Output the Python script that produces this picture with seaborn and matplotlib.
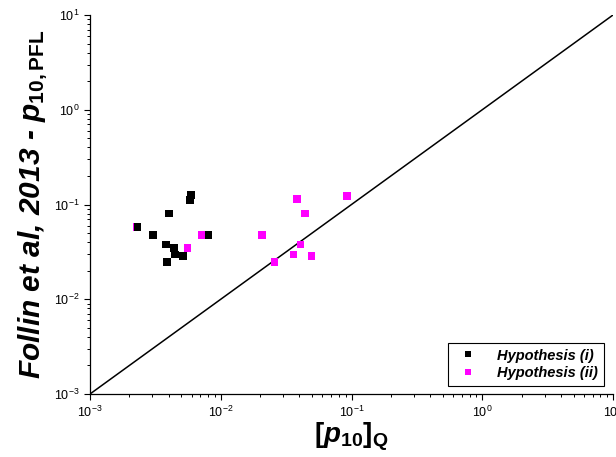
import numpy as np
import pandas as pd
import matplotlib
matplotlib.use("Agg")
import matplotlib.pyplot as plt
import seaborn as sns

# Data
hyp_i_x = [0.00592, 0.00582, 0.00400, 0.00231, 0.00303, 0.00383, 0.00441, 0.00447, 0.00514, 0.00388, 0.00804]
hyp_i_y = [0.126, 0.112, 0.0807, 0.0579, 0.0476, 0.0380, 0.0350, 0.0298, 0.0288, 0.0249, 0.0476]
hyp_ii_x = [0.00229, 0.00719, 0.00555, 0.0207, 0.0383, 0.0441, 0.0924, 0.0406, 0.0361, 0.0496, 0.0257]
hyp_ii_y = [0.0579, 0.0476, 0.0350, 0.0476, 0.1135, 0.0807, 0.123, 0.0380, 0.0298, 0.0288, 0.0247]
series_labels = ["Hypothesis (i)", "Hypothesis (ii)"]
line_x = [1e-3, 1e1]

sns.set_style("ticks")
plt.rcParams['font.family'] = ['Liberation Sans', 'DejaVu Sans']
plt.rcParams['mathtext.fontset'] = 'custom'
plt.rcParams['mathtext.rm'] = 'Liberation Sans'
plt.rcParams['mathtext.it'] = 'Liberation Sans:italic'
plt.rcParams['mathtext.bf'] = 'Liberation Sans:bold'
plt.rcParams['mathtext.bfit'] = 'Liberation Sans:italic:bold'
plt.rcParams['text.color'] = 'black'
plt.rcParams['axes.labelcolor'] = 'black'
plt.rcParams['xtick.color'] = 'black'
plt.rcParams['ytick.color'] = 'black'

df = pd.concat([
    pd.DataFrame({"x": hyp_ii_x, "y": hyp_ii_y, "h": series_labels[1]}),
    pd.DataFrame({"x": hyp_i_x, "y": hyp_i_y, "h": series_labels[0]}),
], ignore_index=True)

fig = plt.figure(figsize=(6.16, 4.57), dpi=100)
ax = fig.add_axes([90/616, 1-394/457, (613-90)/616, (394-15)/457])

ax.plot(line_x, line_x, color="black", lw=1.1, zorder=1)
sns.scatterplot(data=df, x="x", y="y", hue="h", hue_order=series_labels,
                palette={series_labels[0]: "black", series_labels[1]: "#ff00ff"},
                marker="s", s=30, linewidth=0, ax=ax, zorder=3)

ax.set_xscale("log")
ax.set_yscale("log")
ax.set_xlim(1e-3, 1e1)
ax.set_ylim(1e-3, 1e1)

for s in ["top", "right"]:
    ax.spines[s].set_visible(False)
for s in ["left", "bottom"]:
    ax.spines[s].set_linewidth(0.9)
    ax.spines[s].set_color("black")

ax.tick_params(which="major", direction="out", length=4, width=0.8, labelsize=9,
               colors="black", labelcolor="black")
ax.tick_params(which="minor", direction="out", length=2.5, width=0.7, colors="black")

ax.set_xlabel(r"$\mathbf{[}\mathbfit{p}_{\mathbf{10}}\mathbf{]}_{\mathbf{Q}}$", fontsize=20,
              labelpad=1, color="black")
ax.set_ylabel(r"Follin et al, 2013 - $\mathbfit{p}_{\mathbf{10,PFL}}$", fontsize=21.5,
              fontweight="bold", fontstyle="italic", labelpad=3, color="black")

handles, labels = ax.get_legend_handles_labels()
leg = ax.legend(handles, labels, loc="lower right", bbox_to_anchor=(0.983, 0.021),
                borderaxespad=0,
                frameon=True, fancybox=False, edgecolor="black", framealpha=1,
                prop={"weight": "bold", "style": "italic", "size": 10.5},
                handletextpad=1.0, borderpad=0.4, labelspacing=0.25, markerscale=0.8)
leg.get_frame().set_linewidth(0.8)
for t in leg.get_texts():
    t.set_color("black")

fig.savefig("out.png", dpi=100)
